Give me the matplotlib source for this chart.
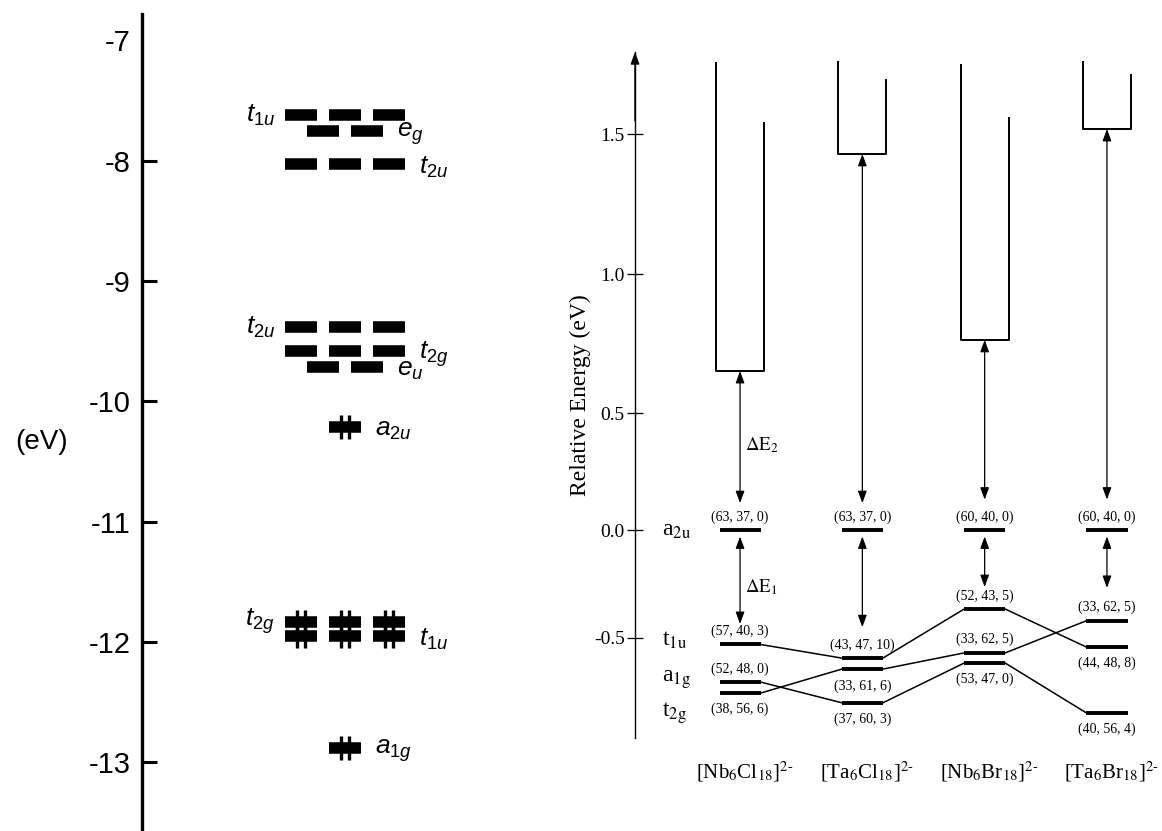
import numpy as np
import matplotlib.pyplot as plt

plt.rcParams['mathtext.fontset'] = 'custom'
plt.rcParams['mathtext.it'] = 'Liberation Sans:italic'
plt.rcParams['mathtext.rm'] = 'Liberation Sans'
plt.rcParams['mathtext.bf'] = 'Liberation Sans:bold'

# ---------------- left panel: cluster MO levels (eV) ----------------
left_ticks = [-13, -12, -11, -10, -9, -8, -7]
empty_levels = [-7.62, -7.75, -8.03, -9.385, -9.58, -9.71]
empty_degen = [3, 2, 3, 3, 3, 2]
filled_levels = [-10.21, -11.83, -11.95, -12.88]
filled_degen = [1, 3, 3, 1]

left_labels = ['$t_{1u}$', '$e_g$', '$t_{2u}$', '$t_{2u}$', '$t_{2g}$', '$e_u$',
               '$a_{2u}$', '$t_{2g}$', '$t_{1u}$', '$a_{1g}$']
left_label_y = [-7.62, -7.75, -8.03, -9.385, -9.58, -9.71, -10.21, -11.83, -11.95, -12.88]
left_label_side = ['left', 'right', 'right', 'left', 'right', 'right',
                   'right', 'left', 'right', 'right']
left_label_degen = [3, 2, 3, 3, 3, 2, 1, 3, 3, 1]

# ---------------- right panel: relative energies (eV) ----------------
compounds = [r'[Nb$_6$Cl$_{18}$]$^{2\text{-}}$', r'[Ta$_6$Cl$_{18}$]$^{2\text{-}}$',
             r'[Nb$_6$Br$_{18}$]$^{2\text{-}}$', r'[Ta$_6$Br$_{18}$]$^{2\text{-}}$']
a2u = [0.0, 0.0, 0.0, 0.0]
t1u = [-0.53, -0.593, -0.366, -0.542]
t2g = [-0.755, -0.644, -0.569, -0.42]
a1g = [-0.704, -0.80, -0.616, -0.847]

a2u_pct = ['(63, 37, 0)', '(63, 37, 0)', '(60, 40, 0)', '(60, 40, 0)']
t1u_pct = ['(57, 40, 3)', '(43, 47, 10)', '(52, 43, 5)', '(44, 48, 8)']
t2g_pct = ['(38, 56, 6)', '(33, 61, 6)', '(33, 62, 5)', '(33, 62, 5)']
a1g_pct = ['(52, 48, 0)', '(37, 60, 3)', '(53, 47, 0)', '(40, 56, 4)']
t1u_side = [1, 1, 1, -1]
t2g_side = [-1, -1, 1, 1]
a1g_side = [1, -1, -1, -1]

box_bottom = [0.651, 1.429, 0.763, 1.518]
box_left_top = [1.754, 1.757, 1.746, 1.757]
box_right_top = [1.539, 1.693, 1.557, 1.711]
de2_low = [0.115, 0.115, 0.13, 0.13]
de1_high = [-0.03, -0.03, -0.03, -0.03]
de1_low = [-0.435, -0.45, -0.264, -0.268]

orbital_names = [r'a$_{\mathrm{2u}}$', r't$_{\mathrm{1u}}$', r'a$_{\mathrm{1g}}$', r't$_{\mathrm{2g}}$']
orbital_name_y = [0.0, -0.51, -0.694, -0.847]

# the original drawing's energy axis is not uniform: tick value -> drawn height
scale_vals = [-1.5, -0.5, 0.0, 0.5, 1.0, 1.5, 2.5]
scale_pos = [-216, 0, 108, 225, 364, 504, 784]


def fwd(y):
    return np.interp(np.asarray(y, float), scale_vals, scale_pos)


def inv(p):
    return np.interp(np.asarray(p, float), scale_pos, scale_vals)


fig = plt.figure(figsize=(11.62, 8.31), dpi=100)

# ---------------- left panel ----------------
ax1 = fig.add_axes([142 / 1162, 0, 358 / 1162, 817 / 831])
ax1.set_xlim(-4.61, 3.52)
ax1.set_ylim(-13.57, -6.78)
for s in ['top', 'right', 'bottom']:
    ax1.spines[s].set_visible(False)
ax1.spines['left'].set_linewidth(2.4)
ax1.set_xticks([])
ax1.set_yticks(left_ticks)
ax1.set_yticklabels([str(t) for t in left_ticks], fontfamily='Liberation Sans', fontsize=21)
ax1.tick_params(axis='y', direction='in', length=11, width=2.2, pad=8)
ax1.yaxis.get_major_ticks()[left_ticks.index(-7)].tick1line.set_visible(False)

half = 0.364
offsets = {1: [0.0], 2: [-0.5, 0.5], 3: [-1.0, 0.0, 1.0]}
for y, n in zip(empty_levels, empty_degen):
    xs = np.array(offsets[n])
    ax1.hlines([y] * n, xs - half, xs + half, lw=8.3, color='black')
for y, n in zip(filled_levels, filled_degen):
    xs = np.array(offsets[n])
    ax1.hlines([y] * n, xs - half, xs + half, lw=8.3, color='black')
    for x in xs:
        ax1.vlines([x - 0.1, x + 0.1], y - 0.1, y + 0.1, lw=2.4, color='black')

for txt, y, side, n in zip(left_labels, left_label_y, left_label_side, left_label_degen):
    xs = offsets[n]
    if side == 'left':
        ax1.annotate(txt, (xs[0] - half, y), xytext=(-7, 0), textcoords='offset points',
                     ha='right', va='center', fontsize=19)
    else:
        ax1.annotate(txt, (xs[-1] + half, y), xytext=(10, -2), textcoords='offset points',
                     ha='left', va='center', fontsize=19)

ax1.set_ylabel('(eV)', rotation=0, fontfamily='Liberation Sans', fontsize=20,
               ha='center', va='center')
ax1.yaxis.set_label_coords(-0.281, 0.476)

# ---------------- right panel ----------------
ax2 = fig.add_axes([635 / 1162, 1 - 738 / 831, 527 / 1162, 686 / 831])
ax2.set_yscale('function', functions=(fwd, inv))
ax2.set_xlim(-0.859, 3.45)
ax2.set_ylim(-0.963, 1.793)
for s in ['top', 'right', 'bottom']:
    ax2.spines[s].set_visible(False)
ax2.spines['left'].set_linewidth(1.0)
ax2.set_xticks([])
ax2.set_yticks([-0.5, 0.0, 0.5, 1.0, 1.5])
ax2.set_yticklabels(['-0.5', '0.0', '0.5', '1.0', '1.5'], fontfamily='Liberation Serif', fontsize=14)
ax2.tick_params(axis='y', direction='inout', length=11, width=0.9, pad=2)
ax2.set_ylabel('Relative Energy (eV)', fontfamily='Liberation Serif', fontsize=17)
ax2.yaxis.set_label_coords(-0.083, 0.5)
ax2.annotate('', xy=(0, 1), xytext=(0, 0.9), xycoords='axes fraction',
             arrowprops=dict(arrowstyle='-|>,head_length=0.6,head_width=0.22',
                             mutation_scale=12, lw=1.0, color='black', shrinkA=0, shrinkB=0))

bw = 0.168
cols = np.arange(len(compounds))
for lev in [a2u, t1u, t2g, a1g]:
    ax2.hlines(lev, cols - bw, cols + bw, lw=2.8, color='black')
for lev in [t1u, t2g, a1g]:
    for i in range(len(cols) - 1):
        ax2.plot([cols[i] + bw, cols[i + 1] - bw], [lev[i], lev[i + 1]], lw=1.1, color='black')

bx = 0.197
for i in cols:
    ax2.plot([i - bx, i - bx, i + bx, i + bx],
             [box_left_top[i], box_bottom[i], box_bottom[i], box_right_top[i]],
             lw=1.4, color='black')

arrow_kw = dict(arrowstyle='<|-|>,head_length=0.6,head_width=0.22', mutation_scale=12,
                lw=0.9, color='black', shrinkA=0, shrinkB=0)
for i in cols:
    ax2.annotate('', xy=(i, box_bottom[i]), xytext=(i, de2_low[i]), arrowprops=arrow_kw)
    ax2.annotate('', xy=(i, de1_high[i]), xytext=(i, de1_low[i]), arrowprops=arrow_kw)

serif = dict(fontfamily='Liberation Serif', math_fontfamily='stix')
ax2.text(0.04, 0.363, r'$\Delta\mathrm{E}_2$', ha='left', va='center', fontsize=13.5, **serif)
ax2.text(0.04, -0.264, r'$\Delta\mathrm{E}_1$', ha='left', va='center', fontsize=13.5, **serif)

for lev, pct, side in [(a2u, a2u_pct, [1, 1, 1, 1]), (t1u, t1u_pct, t1u_side),
                       (t2g, t2g_pct, t2g_side), (a1g, a1g_pct, a1g_side)]:
    for i in cols:
        dy = 9.5 if side[i] > 0 else -12
        ax2.annotate(pct[i], (i, lev[i]), xytext=(0, dy), textcoords='offset points',
                     ha='center', va='center', fontsize=10, **serif)

for name, y in zip(orbital_names, orbital_name_y):
    ax2.text(-0.64, y, name, ha='left', va='center', fontsize=17, **serif)

for i, name in enumerate(compounds):
    ax2.text(i + 0.04, -0.05, name, transform=ax2.get_xaxis_transform(),
             ha='center', va='center', fontsize=15, **serif)

fig.savefig('out.png', dpi=100)
